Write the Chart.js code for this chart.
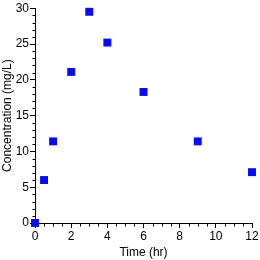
<!DOCTYPE html>
<html><head><meta charset="utf-8">
<script src="https://cdn.jsdelivr.net/npm/chart.js@4/dist/chart.umd.min.js"></script>
<style>html,body{margin:0;padding:0;background:#fff}#wrap{width:260px;height:260px}</style>
</head><body><div id="wrap"><canvas id="c" width="260" height="260"></canvas></div>
<script>
const timeHr = [0, 0.5, 1, 2, 3, 4, 6, 9, 12];
const concentration = [0, 6.0, 11.4, 21.1, 29.5, 25.2, 18.3, 11.4, 7.1];
const xTicks = [0, 2, 4, 6, 8, 10, 12];
const yTicks = [0, 5, 10, 15, 20, 25, 30];
const xMinorStep = 0.5;
const yMinorStep = 1;
const xTitle = 'Time (hr)';
const yTitle = 'Concentration (mg/L)';

const FONT = 'Liberation Sans, Arial, sans-serif';

const minorTicks = {
  id: 'minorTicks',
  afterDraw(chart) {
    const ctx = chart.ctx;
    const xs = chart.scales.x, ys = chart.scales.y;
    ctx.save();
    ctx.strokeStyle = '#000';
    ctx.lineWidth = 1;
    ctx.beginPath();
    const yAxisPix = Math.round(ys.getPixelForValue(ys.min)) + 0.5;
    for (let v = xs.min; v <= xs.max + 1e-9; v += xMinorStep) {
      if (xTicks.includes(v)) continue;
      const px = Math.round(xs.getPixelForValue(v)) + 0.5;
      ctx.moveTo(px, yAxisPix);
      ctx.lineTo(px, yAxisPix + 3);
    }
    const xAxisPix = Math.round(xs.getPixelForValue(xs.min)) + 0.5;
    for (let v = ys.min; v <= ys.max + 1e-9; v += yMinorStep) {
      if (yTicks.includes(v)) continue;
      const py = Math.round(ys.getPixelForValue(v)) + 0.5;
      ctx.moveTo(xAxisPix, py);
      ctx.lineTo(xAxisPix - 3, py);
    }
    ctx.stroke();
    ctx.restore();
  }
};

new Chart(document.getElementById('c'), {
  type: 'scatter',
  data: {
    datasets: [{
      data: timeHr.map((t, i) => ({x: t, y: concentration[i]})),
      pointStyle: 'rect',
      pointRadius: 5.6,
      pointHoverRadius: 5.6,
      backgroundColor: '#0a0af5',
      borderColor: '#0a0af5',
      borderWidth: 0,
      clip: false
    }]
  },
  options: {
    responsive: false,
    animation: false,
    devicePixelRatio: 1,
    layout: {padding: {top: 7, right: 8, left: 0, bottom: 0}},
    plugins: {legend: {display: false}, tooltip: {enabled: false}},
    scales: {
      x: {
        type: 'linear', min: 0, max: 12,
        afterBuildTicks: s => { s.ticks = xTicks.map(v => ({value: v})); },
        afterFit: s => { s.height = 37; },
        grid: {drawOnChartArea: false, drawTicks: true, tickLength: 5, tickColor: '#000'},
        border: {display: true, color: '#000', width: 1},
        ticks: {color: '#000', font: {family: FONT, size: 12}, padding: 1, maxRotation: 0},
        title: {display: true, text: xTitle, color: '#000', font: {family: FONT, size: 12}, padding: {top: 0, bottom: 0}}
      },
      y: {
        type: 'linear', min: 0, max: 30,
        afterBuildTicks: s => { s.ticks = yTicks.map(v => ({value: v})); },
        afterFit: s => { s.width = 35; },
        grid: {drawOnChartArea: false, drawTicks: true, tickLength: 5, tickColor: '#000'},
        border: {display: true, color: '#000', width: 1},
        ticks: {color: '#000', font: {family: FONT, size: 12}, padding: 1},
        title: {display: true, text: yTitle, color: '#000', font: {family: FONT, size: 12}, padding: {top: 0, bottom: 0}}
      }
    }
  },
  plugins: [minorTicks]
});
</script>
</body></html>
